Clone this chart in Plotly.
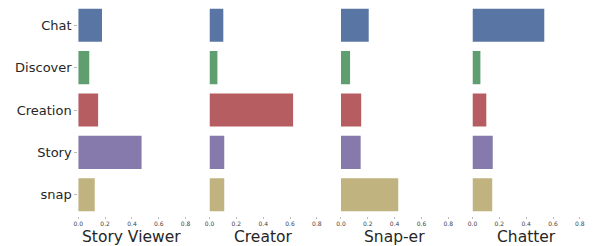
import plotly.graph_objects as go

categories = ["Chat", "Discover", "Creation", "Story", "snap"]
panels = ["Story Viewer", "Creator", "Snap-er", "Chatter"]
values = {
    "Story Viewer": [0.177, 0.082, 0.148, 0.472, 0.123],
    "Creator": [0.103, 0.059, 0.623, 0.110, 0.110],
    "Snap-er": [0.207, 0.068, 0.151, 0.147, 0.427],
    "Chatter": [0.535, 0.059, 0.103, 0.151, 0.147],
}
colors = ["#5975a4", "#5f9e6e", "#b55d60", "#857aab", "#c1b37f"]
xticks = [0.0, 0.2, 0.4, 0.6, 0.8]

W, H = 593, 246
left_px = [74.5, 208.0, 341.7, 475.5]
width_px = 109.2
y_top_px, y_bot_px = 4.1, 215.9

fig = go.Figure()
annotations = []
for i, name in enumerate(panels):
    sfx = "" if i == 0 else str(i + 1)
    fig.add_trace(go.Bar(
        x=values[name], y=categories, orientation="h",
        marker=dict(color=colors, line=dict(width=0)),
        width=0.78,
        xaxis="x" + sfx, yaxis="y" + sfx, showlegend=False,
        hoverinfo="skip",
    ))
    d0 = left_px[i] / W
    d1 = (left_px[i] + width_px) / W
    fig.layout["xaxis" + sfx] = dict(
        domain=[d0, d1], range=[0, 0.8], anchor="y" + sfx,
        tickvals=xticks, ticktext=[f"{v:.1f}" for v in xticks],
        tickfont=dict(family="DejaVu Sans", size=6, color="#444444"),
        ticks="outside", ticklen=2, tickcolor="#bbbbbb", tickwidth=1,
        showgrid=False, zeroline=False, showline=False,
    )
    fig.layout["yaxis" + sfx] = dict(
        domain=[(H - y_bot_px) / H, (H - y_top_px) / H],
        anchor="x" + sfx, type="category",
        categoryorder="array", categoryarray=categories,
        range=[4.5, -0.5],
        showticklabels=(i == 0),
        tickfont=dict(family="DejaVu Sans", size=13, color="#262626"),
        ticks="outside" if i == 0 else "", ticklen=3, tickcolor="#bbbbbb",
        showgrid=False, zeroline=False, showline=False,
    )
    annotations.append(dict(
        text=name, x=(d0 + d1) / 2, y=(H - 237) / H, xref="paper", yref="paper",
        showarrow=False, xanchor="center", yanchor="middle",
        font=dict(family="DejaVu Sans", size=15.5, color="#262626"),
    ))

fig.update_layout(
    width=W, height=H, margin=dict(l=0, r=0, t=0, b=0),
    paper_bgcolor="white", plot_bgcolor="white",
    annotations=annotations, bargap=0.2,
)
fig.write_html(
    "out.html",
    config={"displayModeBar": False, "staticPlot": True},
    post_script="document.body.style.margin='0';document.body.style.padding='0';document.body.style.overflow='hidden';",
)
